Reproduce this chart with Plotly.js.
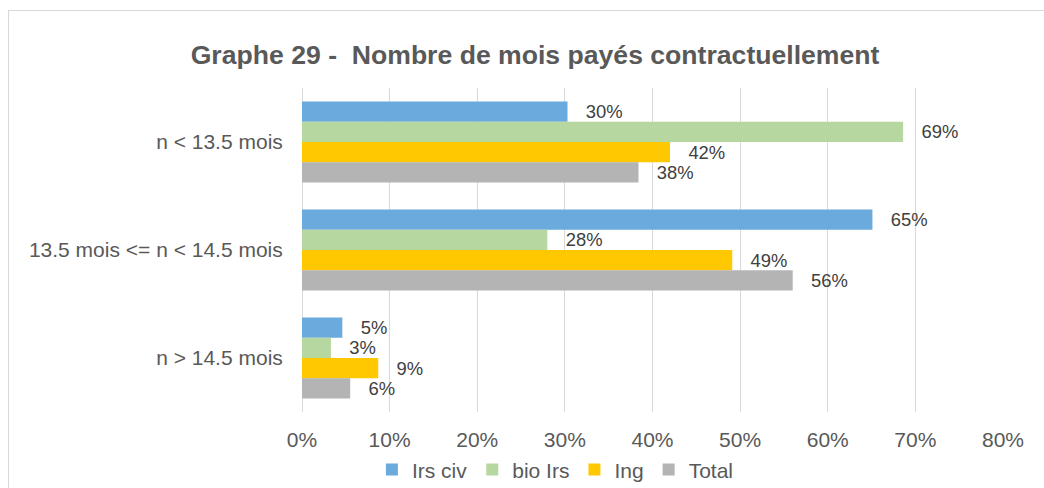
<!DOCTYPE html>
<html>
<head>
<meta charset="utf-8">
<script src="https://cdn.plot.ly/plotly-3.0.1.min.js"></script>
<style>
  html, body { margin: 0; padding: 0; background: #fff; }
  #frame { position: absolute; left: 8px; top: 10px; width: 1040px; height: 482px;
           border-left: 1px solid #D9D9D9; border-top: 1px solid #D9D9D9; }
  #chart { position: absolute; left: 0; top: 0; width: 1044px; height: 488px; }
</style>
</head>
<body>
<div id="frame"></div>
<div id="chart"></div>
<script>
const categories = ["n < 13.5 mois", "13.5 mois <= n < 14.5 mois", "n > 14.5 mois"];
const seriesNames = ["Irs civ", "bio Irs", "Ing", "Total"];
const irsCiv = [0.303, 0.651, 0.046];
const bioIrs = [0.686, 0.280, 0.033];
const ing    = [0.420, 0.491, 0.087];
const total  = [0.384, 0.560, 0.055];
const colors = ["#6AAADC", "#B6D7A0", "#FFC800", "#B4B4B4"];

const values = [irsCiv, bioIrs, ing, total];
const FONT = 'Arial, Liberation Sans, sans-serif';
const traces = values.map((v, i) => ({
  type: 'bar',
  orientation: 'h',
  name: seriesNames[i],
  y: categories,
  x: v,
  marker: { color: colors[i], line: { width: 0 } },
  text: v.map(d => '\u00a0\u00a0\u00a0' + Math.round(d * 100) + '%'),
  textposition: 'outside',
  textfont: { family: FONT, size: 20, color: '#404040' },
  cliponaxis: false,
  hoverinfo: 'none'
}));

const layout = {
  width: 1044, height: 488,
  paper_bgcolor: 'rgba(0,0,0,0)', plot_bgcolor: 'rgba(0,0,0,0)',
  margin: { l: 302, r: 41, t: 88, b: 76, autoexpand: false },
  barmode: 'group',
  bargap: 0.25, bargroupgap: 0,
  title: {
    text: '<b>Graphe 29 -  Nombre de mois payés contractuellement</b>',
    font: { family: FONT, size: 26.6, color: '#595959' },
    x: 0.5125, xanchor: 'center', y: 0.887, yanchor: 'middle'
  },
  xaxis: {
    range: [0, 0.8], dtick: 0.1, tick0: 0, tickformat: '.0%',
    showgrid: true, gridcolor: '#D9D9D9', gridwidth: 1,
    zeroline: true, zerolinecolor: '#D9D9D9', zerolinewidth: 1,
    showline: false, automargin: false,
    ticks: 'outside', ticklen: 9, tickcolor: 'rgba(0,0,0,0)',
    tickfont: { family: FONT, size: 21, color: '#595959' },
    fixedrange: true
  },
  yaxis: {
    autorange: 'reversed', automargin: false,
    showgrid: false, zeroline: false, showline: false,
    ticks: 'outside', ticklen: 14, tickcolor: 'rgba(0,0,0,0)',
    tickfont: { family: FONT, size: 21, color: '#595959' },
    fixedrange: true
  },
  legend: {
    orientation: 'h', x: 0.532, xanchor: 'center', y: 0.037, yanchor: 'middle',
    xref: 'container', yref: 'container',
    font: { family: FONT, size: 21, color: '#595959' },
    itemwidth: 30, traceorder: 'normal'
  },
  showlegend: true
};

Plotly.newPlot('chart', traces, layout, { displayModeBar: false, staticPlot: true });
</script>
</body>
</html>
